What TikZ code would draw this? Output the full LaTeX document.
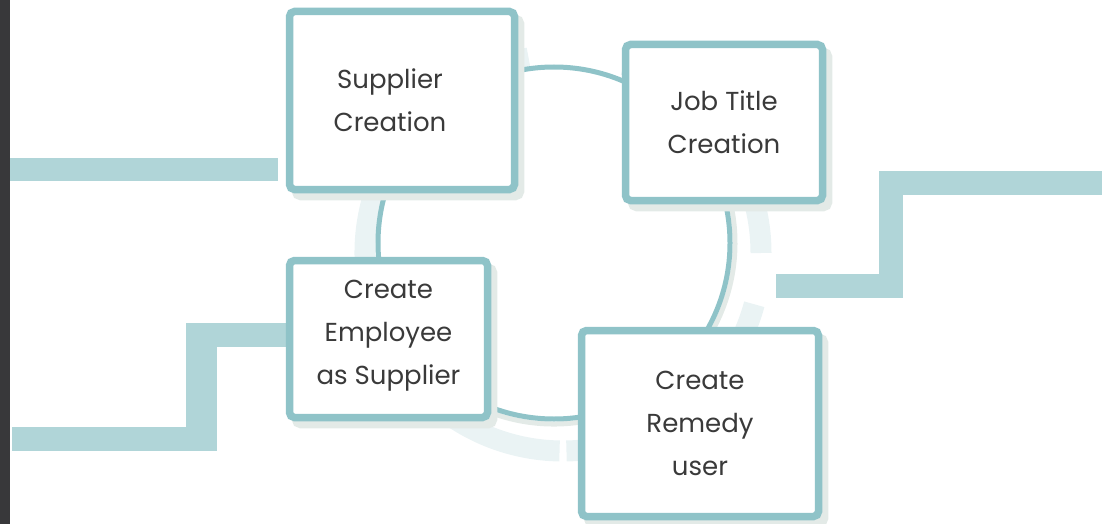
\documentclass[tikz,border=0pt]{standalone}
\usepackage{fontspec}
\setmainfont{Poppins}
\usetikzlibrary{calc,positioning,shadows}
\definecolor{ringteal}{HTML}{8FC3C8}
\definecolor{barteal}{HTML}{B0D5D8}
\definecolor{shadegray}{HTML}{E3EAE7}
\definecolor{faintring}{HTML}{EAF3F4}
\definecolor{textgray}{HTML}{3A3A3A}
\definecolor{edgedark}{HTML}{38383A}
\tikzset{
stagebox/.style={draw=ringteal,line width=7.5pt,rounded corners=5pt,fill=white,text=textgray,align=center,
  font=\fontsize{26}{43}\selectfont,
  drop shadow={shadow xshift=6pt,shadow yshift=-7pt,fill=shadegray,draw=shadegray,line width=7.5pt,opacity=1}},
cycleline/.style={draw=ringteal,line width=5pt},
stepbar/.style={fill=barteal}
}

\begin{document}
\begin{tikzpicture}[x=1pt,y=-1pt]
	\useasboundingbox (0,0) rectangle (1102,524);
	
	\coordinate (hub) at (554,243); %centre of the cycle
	\coordinate (halo) at (563,253); %centre of the faint ring
	
	%faint ring behind the cycle
	\foreach \a/\b in {0/72,100/269,271/345}
		\draw[faintring,line width=21pt] ($(halo)+(-\a:198)$) arc[start angle=-\a,end angle=-\b,radius=198];
	
	%cycle and its shadow
	\draw[shadegray,line width=5pt] ($(hub)+(120:181)$) arc[start angle=120,end angle=-20,radius=181];
	\draw[cycleline] (hub) circle[radius=176];
	
	%dark edge and bars
	\fill[edgedark] (0,0) rectangle (10,524);
	\fill[stepbar] (10,158) rectangle (278,181);
	
	\fill[stepbar] (186,323) rectangle (286,347);
	\fill[stepbar] (186,347) rectangle (217,427);
	\fill[stepbar] (12,427) rectangle (217,451);
	
	\fill[stepbar] (879,171) rectangle (1102,195);
	\fill[stepbar] (879,195) rectangle (903,274);
	\fill[stepbar] (776,274) rectangle (903,298);
	
	%stages
	\node[stagebox,minimum width=225pt,minimum height=178pt] (supplier) at (402,100.5) {Supplier\hspace*{24pt}\\Creation\hspace*{24pt}};
	\node[stagebox,minimum width=197pt,minimum height=156pt] (jobtitle) at (724,122.5) {Job Title\\Creation};
	\node[stagebox,minimum width=198pt,minimum height=157pt] (employee) at (388.5,339) {Create\\Employee\\as Supplier\\[-30pt]};
	\node[stagebox,minimum width=237pt,minimum height=186pt] (remedy) at (700,423.5) {Create\\Remedy\\user};
	
\end{tikzpicture}
\end{document}
